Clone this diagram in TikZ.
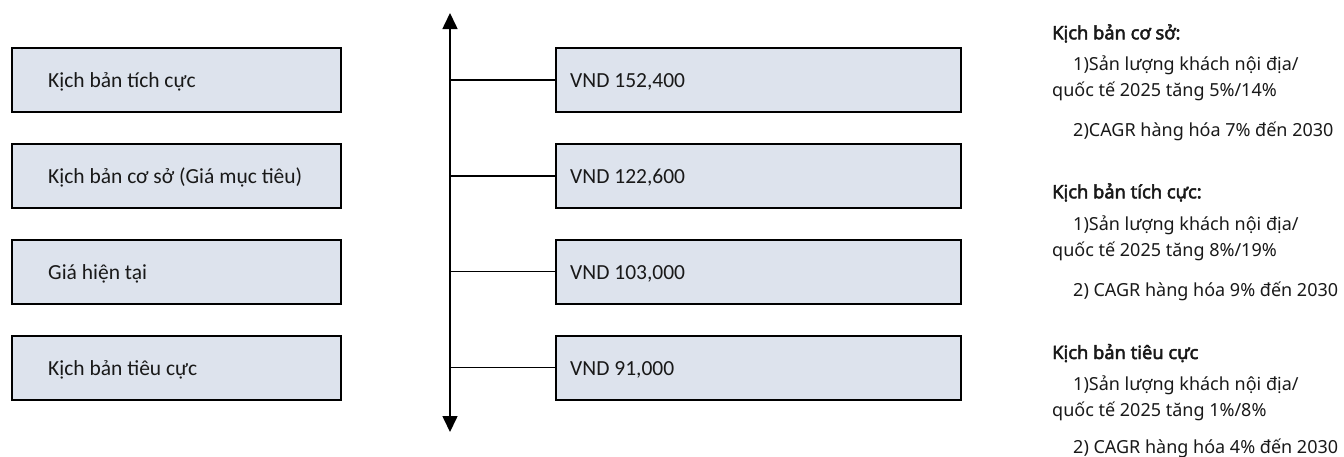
\documentclass[tikz,border=0pt]{standalone}
\usepackage{fontspec}
\setmainfont{Carlito}
\newfontfamily\notefont{Noto Sans}
\newfontfamily\noteboldfont{Noto Sans}[FakeBold=2.6]
\usetikzlibrary{arrows.meta}
\definecolor{boxfill}{HTML}{DDE3ED}
\tikzset{
  scenbox/.style={draw=black, line width=2pt, fill=boxfill, minimum width=329pt, minimum height=64pt, anchor=north west, inner sep=0pt},
  pricebox/.style={draw=black, line width=2pt, fill=boxfill, minimum width=405pt, minimum height=64pt, anchor=north west, inner sep=0pt},
  boxtext/.style={anchor=base west, font=\fontsize{21.5}{24}\selectfont, inner sep=0pt, text=black!90},
  notehead/.style={anchor=base west, font=\noteboldfont\fontsize{18.3}{20}\selectfont, inner sep=0pt, text=black!90},
  notetext/.style={anchor=base west, align=left, font=\notefont\fontsize{18}{25.7}\selectfont, inner sep=0pt, text=black!90},
  link/.style={draw=black, line width=1.6pt},
  axis/.style={draw=black, line width=1.6pt, {Triangle[width=15pt,length=16pt]}-{Triangle[width=15pt,length=16pt]}}
}
\begin{document}
\begin{tikzpicture}[x=1pt,y=-1pt]
\useasboundingbox (0,0) rectangle (1344,456);
% left scenario boxes
\node[scenbox] (s1) at (11,47) {};
\node[scenbox] (s2) at (11,143) {};
\node[scenbox] (s3) at (11,238.5) {};
\node[scenbox] (s4) at (11,334.5) {};
\node[boxtext] (t1) at (48,87.7) {Kịch bản tích cực};
\node[boxtext] (t2) at (48,183.7) {Kịch bản cơ sở (Giá mục tiêu)};
\node[boxtext] (t3) at (48,279.2) {Giá hiện tại};
\node[boxtext] (t4) at (48,375.2) {Kịch bản tiêu cực};
% axis
\coordinate (top) at (450,13);
\coordinate (bot) at (450,432);
\draw[axis] (bot) -- (top);
% price boxes
\node[pricebox] (p1) at (555,47) {};
\node[pricebox] (p2) at (555,143) {};
\node[pricebox] (p3) at (555,238.5) {};
\node[pricebox] (p4) at (555,334.5) {};
\node[boxtext] (v1) at (570,87.7) {VND 152,400};
\node[boxtext] (v2) at (570,183.7) {VND 122,600};
\node[boxtext] (v3) at (570,279.2) {VND 103,000};
\node[boxtext] (v4) at (570,375.2) {VND 91,000};
\foreach \i in {1,2,3,4}{
  \draw[link] (top |- p\i.west) -- (p\i.west);
}
% notes
\node[notehead] (h1) at (1052,39.3) {Kịch bản cơ sở:};
\node[notetext, anchor=north west] (a1) at (1052,56) {\hspace*{21pt}1)Sản lượng khách nội địa/\\quốc tế 2025 tăng 5\%/14\%};
\node[notetext] (c1) at (1073,136) {2)CAGR hàng hóa 7\% đến 2030};
\node[notehead] (h2) at (1052,198.3) {Kịch bản tích cực:};
\node[notetext, anchor=north west] (a2) at (1052,216) {\hspace*{21pt}1)Sản lượng khách nội địa/\\quốc tế 2025 tăng 8\%/19\%};
\node[notetext] (c2) at (1073,296) {2) CAGR hàng hóa 9\% đến 2030};
\node[notehead] (h3) at (1052,359) {Kịch bản tiêu cực};
\node[notetext, anchor=north west] (a3) at (1052,376) {\hspace*{21pt}1)Sản lượng khách nội địa/\\quốc tế 2025 tăng 1\%/8\%};
\node[notetext] (c3) at (1073,453) {2) CAGR hàng hóa 4\% đến 2030};
\end{tikzpicture}
\end{document}
